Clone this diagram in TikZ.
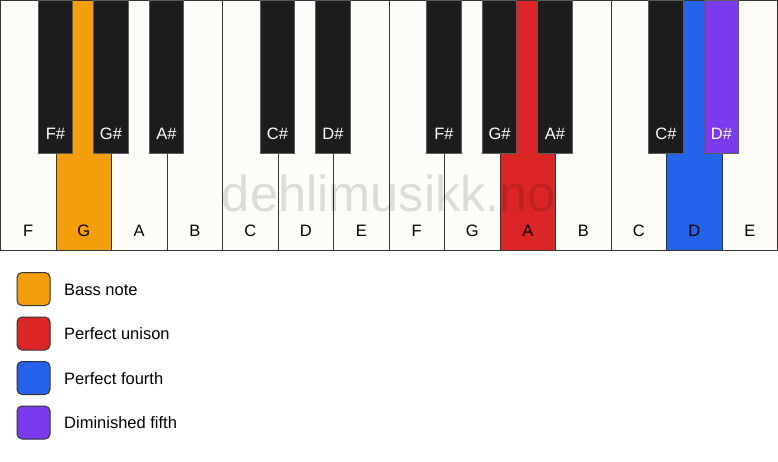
\documentclass[tikz,border=0pt]{standalone}
\usepackage{fontspec}
\setmainfont{Liberation Sans}
\usepackage{xcolor}
\usepackage{tikz}
\usetikzlibrary{positioning,calc}

\definecolor{keyline}{HTML}{333333}
\definecolor{ivory}{HTML}{FDFCF9}
\definecolor{ebony}{HTML}{1C1C1C}
\definecolor{bass}{HTML}{F59E0B}
\definecolor{unison}{HTML}{DC2626}
\definecolor{fourth}{HTML}{2563EB}
\definecolor{dimfifth}{HTML}{7C3AED}

\tikzset{
    whitekey/.style={draw=keyline, line width=1pt, rectangle, anchor=north west,
        minimum width=55.5pt, minimum height=250pt, inner sep=0pt},
    blackkey/.style={draw=keyline!80!white, line width=1pt, rectangle, anchor=north,
        minimum width=34.5pt, minimum height=153pt, inner sep=0pt},
    keylabel/.style={font=\fontsize{16.5}{19}\selectfont, inner sep=0pt},
    swatch/.style={draw=keyline, line width=1pt, rounded corners=5pt, rectangle,
        minimum size=33pt, inner sep=0pt},
}

\begin{document}
\begin{tikzpicture}[x=1pt, y=-1pt]

    %canvas
    \fill[white] (0,0) rectangle (778,461);
    \useasboundingbox (0,0) rectangle (778,461);

    %white keys
    \foreach \i/\n/\c in {0/F/ivory,1/G/bass,2/A/ivory,3/B/ivory,4/C/ivory,5/D/ivory,6/E/ivory,
        7/F/ivory,8/G/ivory,9/A/unison,10/B/ivory,11/C/ivory,12/D/fourth,13/E/ivory}{
        \node[whitekey, fill=\c] (w\i) at (\i*55.5,0) {};
        \node[keylabel] (wl\i) at ($(w\i.south)+(0,-20)$) {\n};
    }

    %black keys
    \foreach \i/\n/\c/\t in {1/F\#/ebony/white,2/G\#/ebony/white,3/A\#/ebony/white,
        5/C\#/ebony/white,6/D\#/ebony/white,8/F\#/ebony/white,9/G\#/ebony/white,
        10/A\#/ebony/white,12/C\#/ebony/white,13/D\#/dimfifth/white}{
        \node[blackkey, fill=\c] (b\i) at (\i*55.5,0) {};
        \node[keylabel, text=\t] (bl\i) at ($(b\i.south)+(0,-20)$) {\n};
    }

    %watermark
    \node[font=\fontsize{50.5}{60}\selectfont, text=black, text opacity=0.13] (mark) at (389,193) {dehlimusikk.no};

    %legend
    \foreach \j/\c/\l in {0/bass/Bass note,1/unison/Perfect unison,2/fourth/Perfect fourth,3/dimfifth/Diminished fifth}{
        \node[swatch, fill=\c] (s\j) at (33.5,289+\j*44.5) {};
        \node[keylabel, anchor=west] (t\j) at (64,289.5+\j*44.5) {\l};
    }

\end{tikzpicture}
\end{document}
